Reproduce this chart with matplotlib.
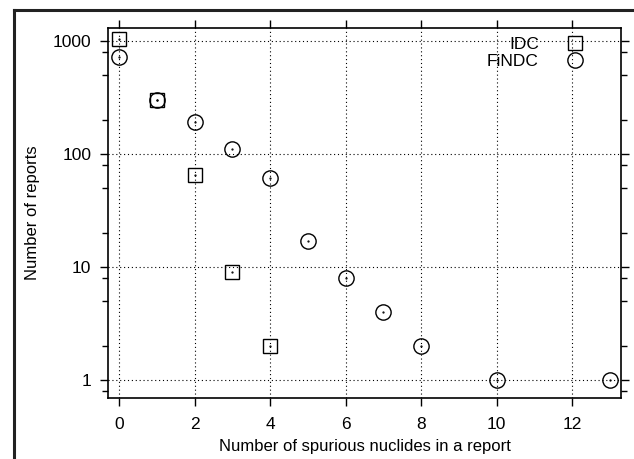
import matplotlib.pyplot as plt
import numpy as np
from matplotlib.ticker import LogLocator, NullFormatter, FixedLocator
from matplotlib.lines import Line2D

plt.rcParams['font.family'] = ['Liberation Sans', 'DejaVu Sans']

idc_x = [0, 1, 2, 3, 4]
idc_y = [1030, 300, 66, 9, 2]
findc_x = [0, 1, 2, 3, 4, 5, 6, 7, 8, 10, 13]
findc_y = [720, 300, 193, 111, 61, 17, 8, 4, 2, 1, 1]
xticks = [0, 2, 4, 6, 8, 10, 12]
yticks = [1, 10, 100, 1000]
ytick_labels = ["1", "10", "100", "1000"]

fig = plt.figure(figsize=(6.34, 4.59), dpi=100)
ax = fig.add_axes([0.1703, 0.1329, 0.8092, 0.8061])

ax.plot(idc_x, idc_y, ls='none', marker='s', ms=10, mfc='none', mec='black', mew=1.0, label='IDC')
ax.plot(findc_x, findc_y, ls='none', marker='o', ms=11, mfc='none', mec='black', mew=1.0, label='FiNDC')
# centre dots of the gnuplot points
ax.plot(idc_x + findc_x, idc_y + findc_y, ls='none', marker='.', ms=1.2, color='black')

ax.set_yscale('log')
ax.set_xlim(-0.3, 13.3)
ax.set_ylim(0.7, 1300)
ax.set_xticks(xticks)
ax.yaxis.set_major_locator(FixedLocator(yticks))
ax.set_yticklabels(ytick_labels)
ax.yaxis.set_minor_locator(LogLocator(base=10, subs=[0.8, 2, 5]))
ax.yaxis.set_minor_formatter(NullFormatter())

ax.tick_params(which='both', direction='out', top=True, right=True, labelsize=12.5, color='black')
ax.tick_params(which='major', length=6, width=1.0)
ax.tick_params(which='minor', length=4, width=1.0)
ax.tick_params(axis='x', pad=8)
ax.tick_params(axis='y', pad=6)
for s in ax.spines.values():
    s.set_linewidth(1.2)

ax.grid(True, which='major', ls=(0, (1, 2.5)), color='black', lw=0.8)

ax.set_xlabel("Number of spurious nuclides in a report", fontsize=12, labelpad=5)
ax.set_ylabel("Number of reports", fontsize=12, labelpad=9)

ax.legend(loc='upper right', frameon=False, markerfirst=False, fontsize=12.5,
          handlelength=1.2, handletextpad=1.5, labelspacing=0.12,
          borderaxespad=0.1, bbox_to_anchor=(0.948, 1.0))

# outer frame lines
fig.add_artist(Line2D([14 / 634, 1.0], [1 - 10 / 459, 1 - 10 / 459], color='#222222', lw=2.2))
fig.add_artist(Line2D([14 / 634, 14 / 634], [0.0, 1 - 10 / 459], color='#222222', lw=2.2))

fig.savefig('out.png', dpi=100)
